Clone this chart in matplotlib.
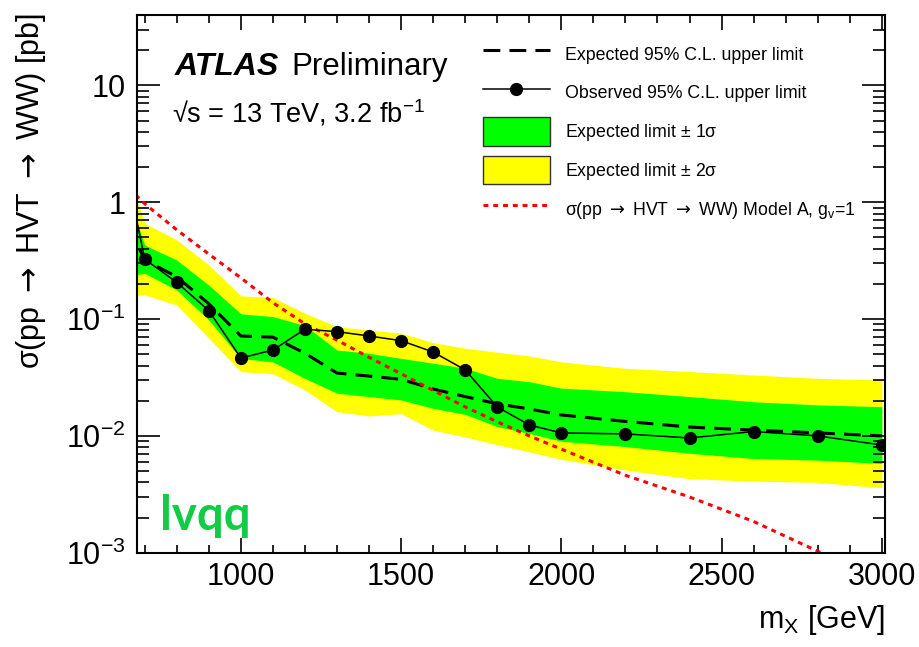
import numpy as np
import matplotlib
matplotlib.use('Agg')
import matplotlib.pyplot as plt
from matplotlib.ticker import LogLocator, MultipleLocator, FixedLocator, FuncFormatter, NullFormatter

plt.rcParams['font.family'] = ['Liberation Sans', 'DejaVu Sans']
plt.rcParams['mathtext.fontset'] = 'custom'
plt.rcParams['mathtext.rm'] = 'Liberation Sans'
plt.rcParams['mathtext.it'] = 'Liberation Sans:italic'
plt.rcParams['mathtext.bf'] = 'Liberation Sans:bold'
plt.rcParams['mathtext.sf'] = 'DejaVu Sans'   # only used for the arrows

# resonance masses [GeV]
mass = [650, 700, 800, 900, 1000, 1100, 1200, 1300, 1400, 1500, 1600,
        1700, 1800, 1900, 2000, 2200, 2400, 2600, 2800, 3000]
# limits [pb]
observed = [1.51, 0.325, 0.206, 0.118, 0.0464, 0.0543, 0.0818, 0.078, 0.0716, 0.0653, 0.0522,
            0.0367, 0.0177, 0.0124, 0.0106, 0.0104, 0.0096, 0.0109, 0.0100, 0.00835]
expected = [0.63, 0.32, 0.23, 0.135, 0.0716, 0.0700, 0.0510, 0.0345, 0.0325, 0.0305, 0.0252,
            0.0217, 0.0188, 0.0170, 0.0151, 0.0133, 0.0119, 0.0112, 0.0106, 0.0100]
band1_up = [1.08, 0.43, 0.32, 0.195, 0.111, 0.105, 0.088, 0.0543, 0.0509, 0.0461, 0.0419,
            0.0379, 0.0311, 0.0291, 0.0256, 0.0239, 0.0217, 0.0196, 0.0184, 0.0178]
band1_dn = [0.234, 0.246, 0.177, 0.098, 0.046, 0.043, 0.031, 0.0232, 0.0217, 0.0203, 0.0172,
            0.0153, 0.0120, 0.0105, 0.0090, 0.0081, 0.0071, 0.0064, 0.0062, 0.0058]
band2_up = [1.67, 0.66, 0.475, 0.29, 0.158, 0.153, 0.112, 0.086, 0.0807, 0.0756, 0.0628,
            0.0562, 0.0520, 0.0483, 0.0430, 0.0379, 0.0355, 0.0332, 0.0311, 0.0301]
band2_dn = [0.159, 0.161, 0.132, 0.0686, 0.0355, 0.034, 0.0247, 0.0161, 0.0148, 0.0155, 0.0112,
            0.0098, 0.0084, 0.0073, 0.0063, 0.0051, 0.0043, 0.0041, 0.0040, 0.0036]
theory = [1.32, 0.97, 0.58, 0.36, 0.225, 0.138, 0.091, 0.066, 0.047, 0.034, 0.0245,
          0.0177, 0.0132, 0.0100, 0.0077, 0.0046, 0.0030, 0.00185, 0.00103, 0.00058]

AR = '$\\mathsf{\\rightarrow}$'

fig = plt.figure(figsize=(9.2, 6.47), dpi=100)
ax = fig.add_axes([0.1486, 0.1457, 0.8134, 0.8311])

ax.fill_between(mass, band2_dn, band2_up, color='#ffff00', lw=0, label='Expected limit $\\pm$ 2σ')
ax.fill_between(mass, band1_dn, band1_up, color='#00ff00', lw=0, label='Expected limit $\\pm$ 1σ')
ax.plot(mass, expected, color='black', lw=2.2, dashes=(5.5, 3), label='Expected 95% C.L. upper limit')
ax.plot(mass, theory, color='red', lw=2.2, dashes=(1.6, 1.6),
        label='σ(pp ' + AR + ' HVT ' + AR + ' WW) Model A, g$_{\\rm v}$=1')
ax.plot(mass, observed, color='black', lw=1.1, marker='o', ms=8.5,
        label='Observed 95% C.L. upper limit')

ax.set_yscale('log')
ax.set_xlim(675, 3010)
ax.set_ylim(1e-3, 40)

ax.xaxis.set_major_locator(MultipleLocator(500))
ax.xaxis.set_minor_locator(MultipleLocator(100))
ax.yaxis.set_major_locator(FixedLocator([1e-3, 1e-2, 1e-1, 1, 10]))
ax.yaxis.set_minor_locator(LogLocator(base=10, subs=np.arange(2, 10), numticks=20))
ax.yaxis.set_minor_formatter(NullFormatter())


def ylab(v, pos):
    if v >= 1:
        return '%d' % round(v)
    return '$10^{%d}$' % round(np.log10(v))


ax.yaxis.set_major_formatter(FuncFormatter(ylab))
ax.tick_params(which='both', direction='in', top=True, right=True, width=1.2, labelsize=22)
ax.tick_params(axis='x', which='major', length=11, pad=7)
ax.tick_params(axis='x', which='minor', length=6)
ax.tick_params(axis='y', which='major', length=16.5, pad=8)
ax.tick_params(axis='y', which='minor', length=8.5)
for s in ax.spines.values():
    s.set_linewidth(1.5)

fig.text(0.034, 0.98, 'σ(pp ' + AR + ' HVT ' + AR + ' WW) [pb]', rotation=90,
         ha='center', va='top', fontsize=22)
fig.text(0.962, 0.03, 'm$_{\\rm X}$ [GeV]', ha='right', va='baseline', fontsize=22)

fig.text(175 / 920, 1 - 75 / 647, 'ATLAS', fontsize=23, fontweight='bold', fontstyle='italic',
         va='baseline')
fig.text(291 / 920, 1 - 75 / 647, 'Preliminary', fontsize=22.5, va='baseline')
fig.text(172 / 920, 1 - 122 / 647, '√s = 13 TeV, 3.2 fb$^{-1}$', fontsize=19.5, va='baseline')
fig.text(160 / 920, 1 - 530 / 647, 'lvqq', fontsize=34, fontweight='bold', color='#11cc44',
         family=['Lato', 'DejaVu Sans'], va='baseline')

h, l = ax.get_legend_handles_labels()
order = [2, 4, 1, 0, 3]
leg = ax.legend([h[i] for i in order], [l[i] for i in order], loc='upper left',
                bbox_to_anchor=(0.4624, 0.9534), frameon=False, fontsize=12.8,
                handlelength=3.77, handleheight=2.05, labelspacing=0.60, handletextpad=0.84,
                borderpad=0, borderaxespad=0)
for p in leg.get_patches():
    p.set_edgecolor('#333333')
    p.set_linewidth(1.0)

fig.savefig('out.png', dpi=100)
